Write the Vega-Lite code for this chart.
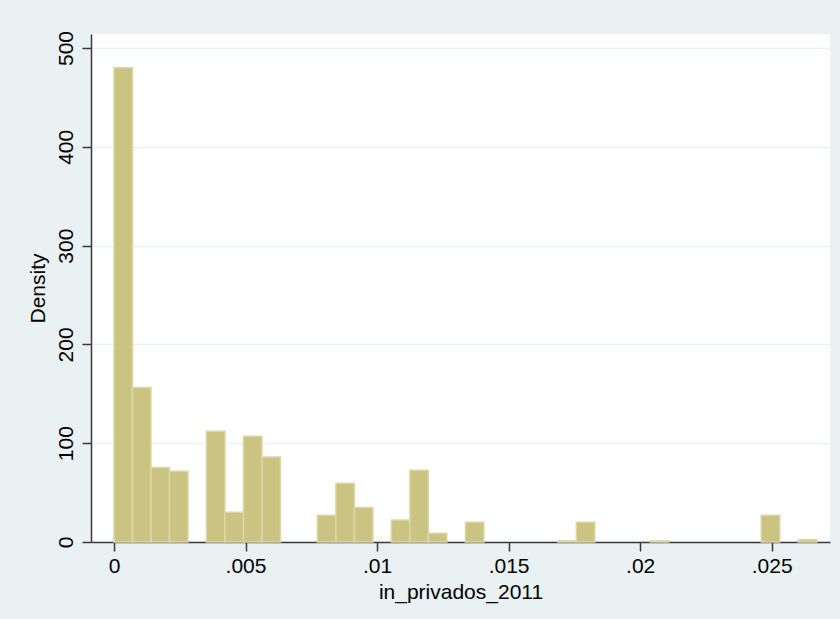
{
  "$schema": "https://vega.github.io/schema/vega-lite/v6.json",
  "width": 739,
  "height": 508,
  "autosize": {"type": "none"},
  "padding": {"left": 91, "top": 34, "right": 10, "bottom": 77},
  "background": "#e9f1f3",
  "config": {
    "view": {"fill": "white", "stroke": null},
    "font": "Liberation Sans",
    "axis": {
      "labelFont": "Liberation Sans",
      "titleFont": "Liberation Sans",
      "labelFontSize": 21,
      "titleFontSize": 21,
      "titleFontWeight": "normal",
      "labelColor": "black",
      "titleColor": "black",
      "domainColor": "#3a3a3a",
      "domainWidth": 1.5,
      "tickColor": "#3a3a3a",
      "tickWidth": 1.5,
      "tickSize": 9
    }
  },
  "data": {
    "values": [
      {"bin_start": 0.0, "bin_end": 0.000703, "density": 480},
      {"bin_start": 0.000703, "bin_end": 0.001406, "density": 156.5},
      {"bin_start": 0.001406, "bin_end": 0.002109, "density": 75.5},
      {"bin_start": 0.002109, "bin_end": 0.002812, "density": 71.5},
      {"bin_start": 0.003515, "bin_end": 0.004218, "density": 112},
      {"bin_start": 0.004218, "bin_end": 0.004921, "density": 30},
      {"bin_start": 0.004921, "bin_end": 0.005624, "density": 107},
      {"bin_start": 0.005624, "bin_end": 0.006327, "density": 86},
      {"bin_start": 0.007733, "bin_end": 0.008436, "density": 27},
      {"bin_start": 0.008436, "bin_end": 0.009139, "density": 59.5},
      {"bin_start": 0.009139, "bin_end": 0.009842, "density": 35},
      {"bin_start": 0.010545, "bin_end": 0.011248, "density": 22.3},
      {"bin_start": 0.011248, "bin_end": 0.011951, "density": 72.6},
      {"bin_start": 0.011951, "bin_end": 0.012654, "density": 8.8},
      {"bin_start": 0.013357, "bin_end": 0.01406, "density": 20},
      {"bin_start": 0.016872, "bin_end": 0.017575, "density": 1.1},
      {"bin_start": 0.017575, "bin_end": 0.018278, "density": 20},
      {"bin_start": 0.020387, "bin_end": 0.02109, "density": 1.1},
      {"bin_start": 0.024605, "bin_end": 0.025308, "density": 27},
      {"bin_start": 0.026011, "bin_end": 0.026714, "density": 2.2}
    ]
  },
  "mark": {"type": "rect", "fill": "#cac381", "stroke": "#dcd7a6", "strokeWidth": 1.5},
  "encoding": {
    "x": {
      "field": "bin_start",
      "type": "quantitative",
      "scale": {"domain": [-0.000874, 0.027217], "nice": false, "zero": false},
      "axis": {
        "title": "in_privados_2011",
        "values": [0, 0.005, 0.01, 0.015, 0.02, 0.025],
        "labelExpr": "datum.value === 0 ? '0' : substring(format(datum.value, '.3~f'), 1)",
        "grid": false,
        "labelPadding": 4,
        "titlePadding": 5
      }
    },
    "x2": {"field": "bin_end"},
    "y": {
      "field": "density",
      "type": "quantitative",
      "scale": {"domain": [0, 514.2], "nice": false},
      "axis": {
        "title": "Density",
        "values": [0, 100, 200, 300, 400, 500],
        "labelAngle": 270,
        "labelAlign": "center",
        "labelBaseline": "alphabetic",
        "labelPadding": 10,
        "titlePadding": 7,
        "grid": true,
        "gridColor": "#eaf2f3",
        "gridWidth": 1.5
      }
    },
    "y2": {"datum": 0}
  }
}
